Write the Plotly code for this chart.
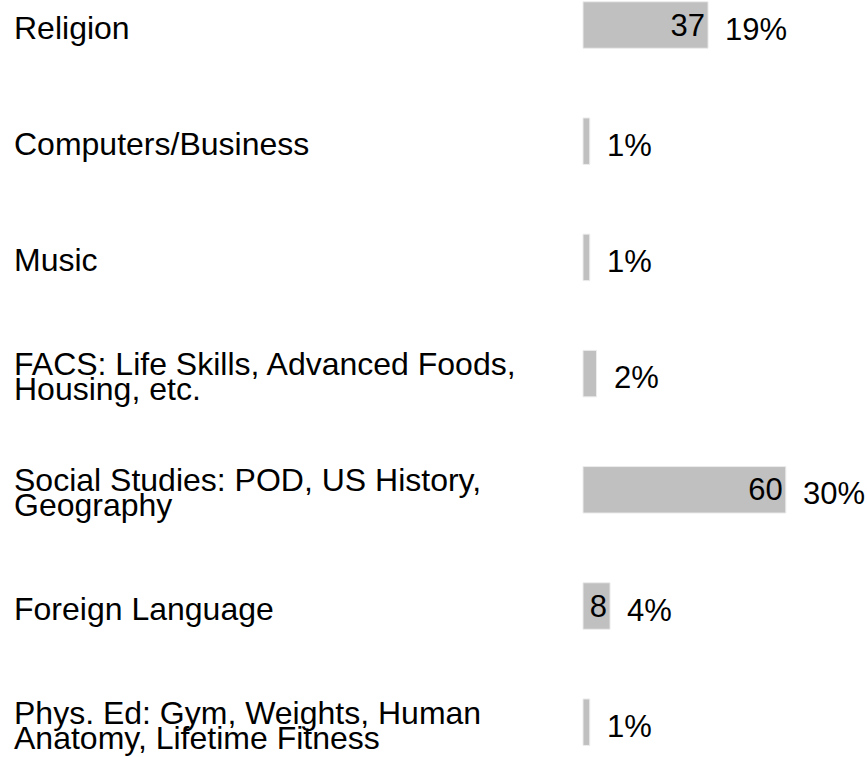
import plotly.graph_objects as go

# survey: elective subject areas
categories = [
    "Religion",
    "Computers/Business",
    "Music",
    "FACS: Life Skills, Advanced Foods,<br>Housing, etc.",
    "Social Studies: POD, US History,<br>Geography",
    "Foreign Language",
    "Phys. Ed: Gym, Weights, Human<br>Anatomy, Lifetime Fitness",
]
counts = [37, 2, 2, 4, 60, 8, 2]
percents = ["19%", "1%", "1%", "2%", "30%", "4%", "1%"]

FONT = "Liberation Sans, Arial, sans-serif"
FONT_SIZE = 31
LABEL_SIZE = 32
BAR_COLOR = "#c0c0c0"
W, H = 867, 757

fig = go.Figure()
fig.add_trace(go.Bar(
    x=counts,
    y=categories,
    orientation="h",
    width=0.4,
    marker=dict(color=BAR_COLOR, line=dict(color="#ececec", width=1)),
    text=[str(c) for c in counts],
    textposition="inside",
    insidetextanchor="end",
    textfont=dict(family=FONT, size=FONT_SIZE, color="black"),
    hoverinfo="skip",
    showlegend=False,
))

annotations = []
for cat, cnt, pct in zip(categories, counts, percents):
    # percentage to the right of each bar
    annotations.append(dict(
        x=cnt, y=cat, xref="x", yref="y", text=pct,
        xanchor="left", yanchor="middle", xshift=15, yshift=-4,
        showarrow=False, font=dict(family=FONT, size=FONT_SIZE, color="black"),
    ))
    # category label on the left, tight line spacing
    lines = cat.split("<br>")
    n = len(lines)
    for k, line in enumerate(lines):
        offset = (k - (n - 1) / 2) * 25
        annotations.append(dict(
            x=12 / W, y=cat, xref="paper", yref="y", text=line,
            xanchor="left", yanchor="middle", yshift=-3 - offset,
            showarrow=False, font=dict(family=FONT, size=LABEL_SIZE, color="black"),
        ))

px_per_unit = 3.38
x0 = 583
center0, step = 25, 116.2

fig.update_layout(
    width=W, height=H,
    margin=dict(l=0, r=0, t=0, b=0),
    paper_bgcolor="white", plot_bgcolor="white",
    uniformtext=dict(minsize=FONT_SIZE, mode="hide"),
    annotations=annotations,
    xaxis=dict(range=[-x0 / px_per_unit, (W - x0) / px_per_unit],
               visible=False, fixedrange=True),
    yaxis=dict(range=[(H - center0) / step, -center0 / step],
               visible=False, fixedrange=True),
)

fig.write_html("out.html", config={"displayModeBar": False},
               post_script="document.body.style.margin='0';")
